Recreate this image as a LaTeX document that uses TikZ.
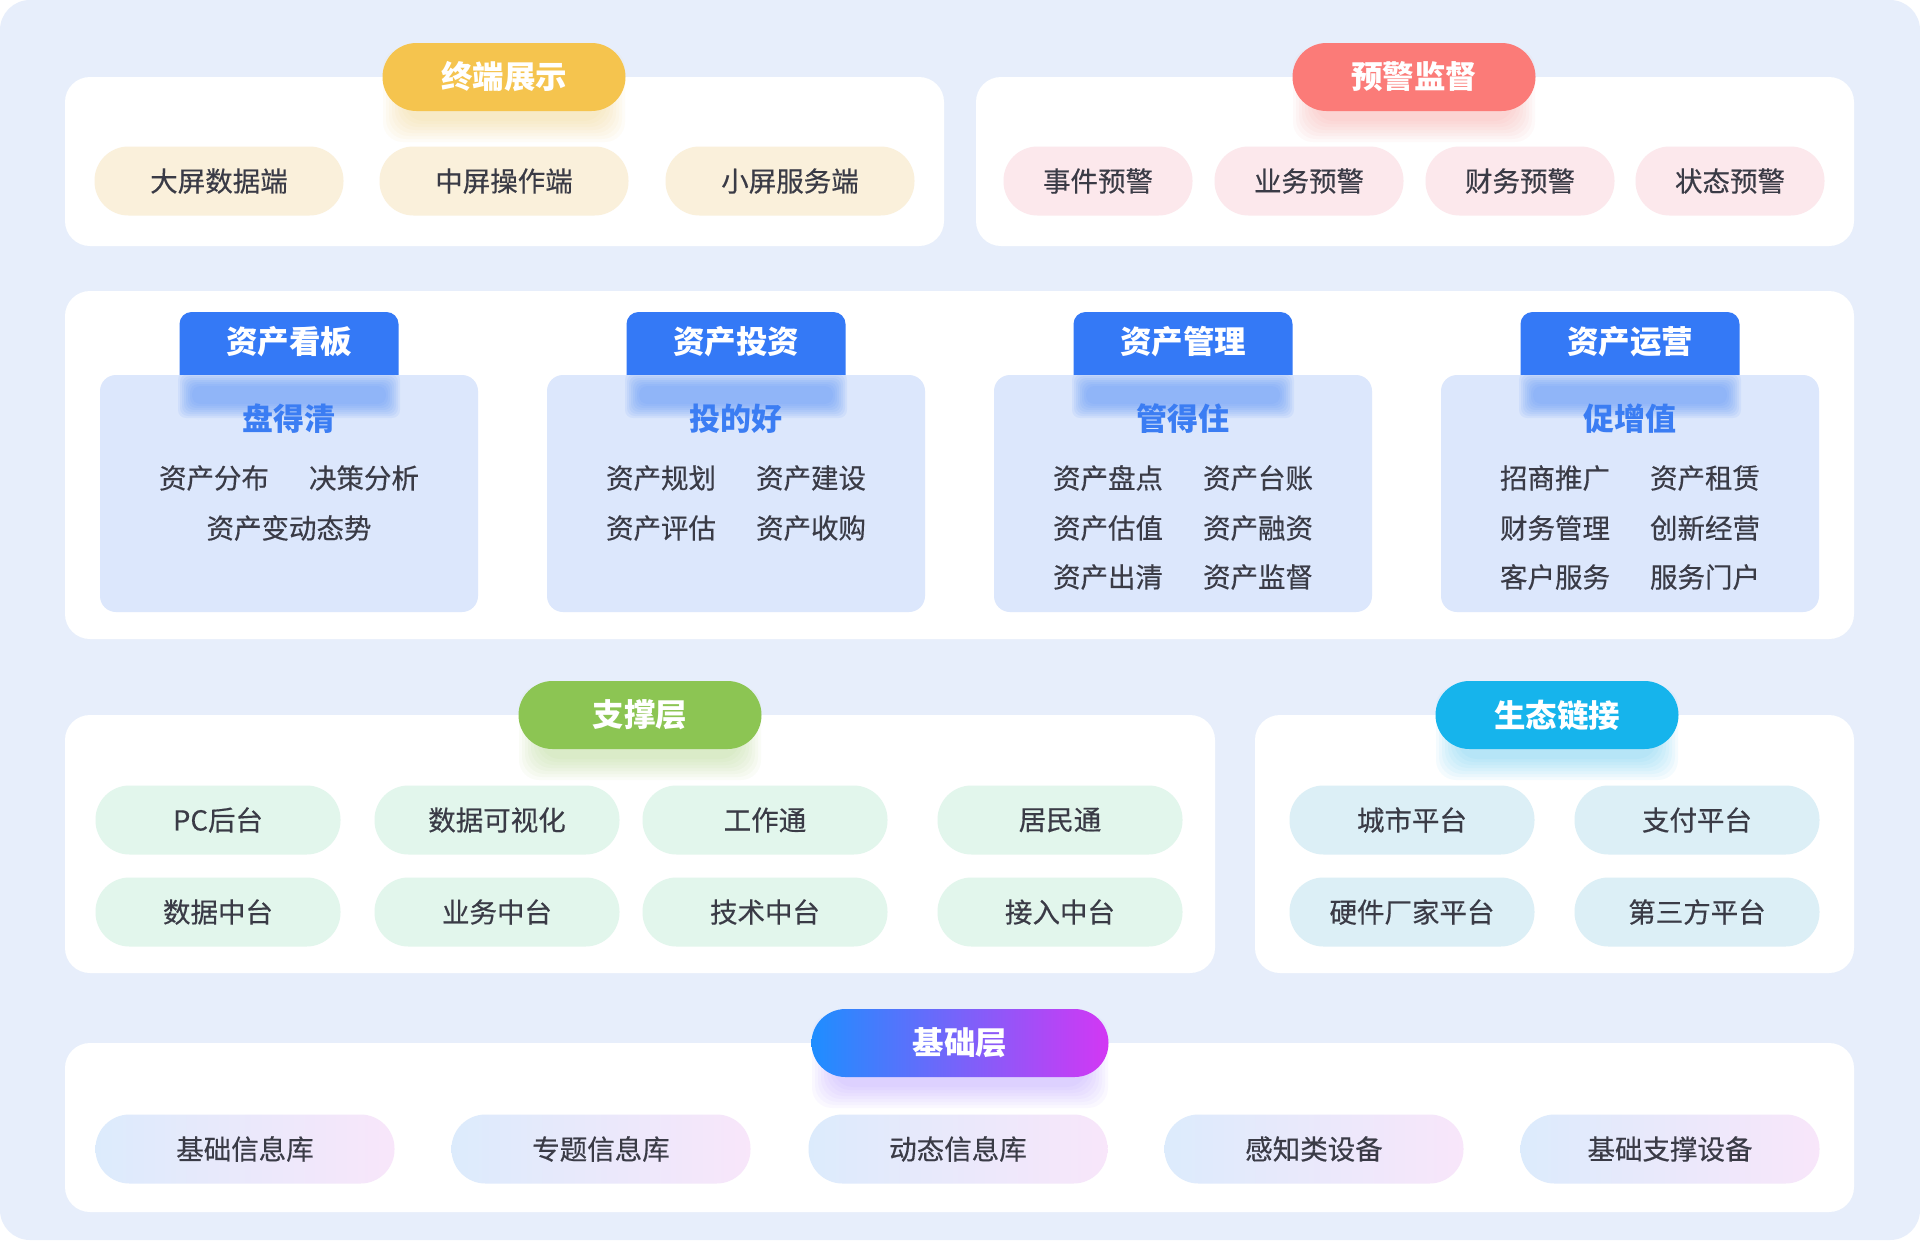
\documentclass[tikz,border=0pt]{standalone}
\usepackage{fontspec}
\setmainfont{Noto Sans CJK SC}
\newfontfamily\medf{Noto Sans CJK SC}[FakeBold=0.4]
\definecolor{bgc}{HTML}{E7EEFB}
\definecolor{txt}{HTML}{3A3B46}
\definecolor{ylt}{HTML}{F5C44E}
\definecolor{ylp}{HTML}{FAF0DB}
\definecolor{rdt}{HTML}{FB7B78}
\definecolor{rdp}{HTML}{FCE8EC}
\definecolor{blt}{HTML}{3479F6}
\definecolor{cardc}{HTML}{DCE7FC}
\definecolor{subc}{HTML}{3B7DF3}
\definecolor{blurc}{HTML}{5F95F8}
\definecolor{grt}{HTML}{8CC553}
\definecolor{grp}{HTML}{E2F6EC}
\definecolor{cyt}{HTML}{16B4EC}
\definecolor{cyp}{HTML}{DCEFF6}
\definecolor{gl1}{HTML}{1E8EFF}
\definecolor{gl2}{HTML}{D337F4}
\definecolor{gp1}{HTML}{DCEBFC}
\definecolor{gp2}{HTML}{F8E6FA}
\definecolor{glp}{HTML}{9A70FF}
\newcommand{\myglow}[4]{%
  \foreach \k in {0,...,7}{\fill[#4, opacity=0.045, rounded corners=20pt] (#1-#3-3*\k, #2+18-26-3*\k) rectangle (#1+#3+3*\k, #2+18+26+3*\k);}}
\newcommand{\myband}[1]{%
  \foreach \k in {0,...,7}{\fill[blurc, opacity=0.1, rounded corners=8pt] (#1-97-2*\k, 395-9-2*\k) rectangle (#1+97+2*\k, 395+9+2*\k);}}
\begin{document}
\begin{tikzpicture}[x=1pt,y=-1pt,
  panel/.style={fill=white, rounded corners=25pt},
  pill/.style={rounded corners=34pt, minimum height=69pt, inner sep=0pt, text=txt, font=\medf\fontsize{27.5}{30}\selectfont},
  ttl/.style={rounded corners=34pt, minimum width=243pt, minimum height=68pt, inner sep=0pt, text=white, font=\fontsize{31.5}{34}\selectfont\bfseries},
  card/.style={fill=cardc, rounded corners=16pt, minimum width=378pt, minimum height=237pt, inner sep=0pt},
  tabbox/.style={fill=blt, rounded corners=12pt, minimum width=219pt, minimum height=78pt, inner sep=0pt},
  tabtxt/.style={text=white, font=\fontsize{31.5}{34}\selectfont\bfseries, inner sep=0pt},
  subttl/.style={text=subc, font=\fontsize{31}{34}\selectfont\bfseries, inner sep=0pt},
  item/.style={text=txt, font=\medf\fontsize{27.5}{30}\selectfont, inner sep=0pt}]
\useasboundingbox (0,0) rectangle (1920,1240);
\fill[white] (0,0) rectangle (1920,1240);
\fill[bgc, rounded corners=30pt] (0,0) rectangle (1920,1240);

% ---------- panel 1: terminal display
\fill[panel] (65,77) rectangle (944,246);
\myglow{504}{77}{100}{ylt}
\node[ttl, fill=ylt] (t1) at (504,77) {终端展示};
\foreach \x/\t/\n in {219/大屏数据端/a1, 504/中屏操作端/a2, 790/小屏服务端/a3}
  \node[pill, fill=ylp, minimum width=249pt] (\n) at (\x,181) {\t};

% ---------- panel 2: warning
\fill[panel] (976,77) rectangle (1854,246);
\myglow{1414}{77}{100}{rdt}
\node[ttl, fill=rdt] (t2) at (1414,77) {预警监督};
\foreach \x/\t/\n in {1098/事件预警/b1, 1309/业务预警/b2, 1520/财务预警/b3, 1730/状态预警/b4}
  \node[pill, fill=rdp, minimum width=189pt] (\n) at (\x,181) {\t};

% ---------- panel 3: asset cards
\fill[panel] (65,291) rectangle (1854,639);
\foreach \c/\tt/\st/\n in {289/资产看板/盘得清/1, 736/资产投资/投的好/2, 1183/资产管理/管得住/3, 1630/资产运营/促增值/4}{
  \node[tabbox] (tab\n) at (\c,351) {};
  \node[tabtxt] (tabl\n) at (\c,342) {\tt};
  \node[card] (card\n) at (\c,493.5) {};
  \begin{scope}
    \clip[rounded corners=16pt] (\c-189,375) rectangle (\c+189,612);
    \myband{\c}
  \end{scope}
  \node[subttl] (sub\n) at (\c,419) {\st};
}
\node[item] (i11) at (214,478) {资产分布};
\node[item] (i12) at (364,478) {决策分析};
\node[item] (i13) at (289,528) {资产变动态势};
\node[item] (i21) at (661,478) {资产规划};
\node[item] (i22) at (811,478) {资产建设};
\node[item] (i23) at (661,528) {资产评估};
\node[item] (i24) at (811,528) {资产收购};
\node[item] (i31) at (1108,478) {资产盘点};
\node[item] (i32) at (1258,478) {资产台账};
\node[item] (i33) at (1108,528) {资产估值};
\node[item] (i34) at (1258,528) {资产融资};
\node[item] (i35) at (1108,577) {资产出清};
\node[item] (i36) at (1258,577) {资产监督};
\node[item] (i41) at (1555,478) {招商推广};
\node[item] (i42) at (1705,478) {资产租赁};
\node[item] (i43) at (1555,528) {财务管理};
\node[item] (i44) at (1705,528) {创新经营};
\node[item] (i45) at (1555,577) {客户服务};
\node[item] (i46) at (1705,577) {服务门户};

% ---------- panel 4: support layer
\fill[panel] (65,715) rectangle (1215,973);
\myglow{640}{715}{100}{grt}
\node[ttl, fill=grt] (t4) at (640,715) {支撑层};
\foreach \x/\t/\n in {218/PC后台/s1, 497/数据可视化/s2, 765/工作通/s3, 1060/居民通/s4}
  \node[pill, fill=grp, minimum width=245pt] (\n) at (\x,820) {\t};
\foreach \x/\t/\n in {218/数据中台/s5, 497/业务中台/s6, 765/技术中台/s7, 1060/接入中台/s8}
  \node[pill, fill=grp, minimum width=245pt] (\n) at (\x,912) {\t};

% ---------- panel 5: ecosystem
\fill[panel] (1255,715) rectangle (1854,973);
\myglow{1557}{715}{100}{cyt}
\node[ttl, fill=cyt] (t5) at (1557,715) {生态链接};
\node[pill, fill=cyp, minimum width=245pt] (e1) at (1412,820) {城市平台};
\node[pill, fill=cyp, minimum width=245pt] (e2) at (1697,820) {支付平台};
\node[pill, fill=cyp, minimum width=245pt] (e3) at (1412,912) {硬件厂家平台};
\node[pill, fill=cyp, minimum width=245pt] (e4) at (1697,912) {第三方平台};

% ---------- panel 6: base layer
\fill[panel] (65,1043) rectangle (1854,1212);
\myglow{960}{1043}{127}{glp}
\node[ttl, left color=gl1, right color=gl2, minimum width=297pt] (t6) at (960,1043) {基础层};
\foreach \x/\t/\n in {245/基础信息库/f1, 601/专题信息库/f2, 958/动态信息库/f3, 1314/感知类设备/f4, 1670/基础支撑设备/f5}
  \node[pill, left color=gp1, right color=gp2, minimum width=299pt] (\n) at (\x,1149) {\t};
\end{tikzpicture}
\end{document}
